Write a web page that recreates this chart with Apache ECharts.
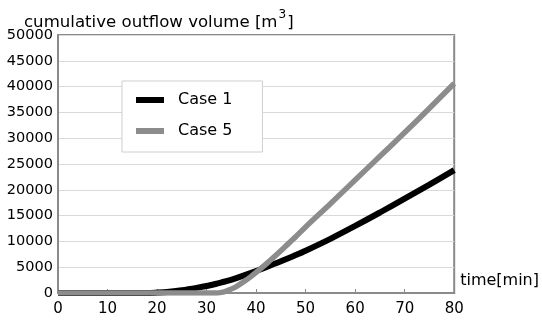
<!DOCTYPE html>
<html>
<head>
<meta charset="utf-8">
<script src="https://cdn.jsdelivr.net/npm/echarts@6/dist/echarts.min.js"></script>
<style>
  html, body { margin: 0; padding: 0; background: #fff; }
  #chart { width: 542px; height: 326px; }
</style>
</head>
<body>
<div id="chart"></div>
<script>
// elapsed time [min]
const timeMin = [0, 5, 10, 15, 18, 20, 22, 25, 28, 30, 32, 33, 34, 36, 38, 40, 42, 44, 46, 48, 50, 55, 60, 65, 70, 75, 80];
// cumulative outflow volume [m3]
const case1 = [0, 0, 0, 0, 0, 80, 200, 550, 1000, 1350, 1800, 2050, 2300, 2900, 3550, 4250, 5000, 5750, 6550, 7350, 8200, 10500, 13000, 15600, 18300, 21000, 23800];
const case5 = [0, 0, 0, 0, 0, 0, 0, 0, 0, 0, 0, 120, 400, 1250, 2500, 4000, 5600, 7300, 9100, 10900, 12800, 17300, 21900, 26500, 31100, 35800, 40600];
const seriesNames = ['Case 1', 'Case 5'];

const pairs = vals => timeMin.map((t, i) => [t, vals[i]]);
const font = '"DejaVu Sans", Verdana, sans-serif';

const chart = echarts.init(document.getElementById('chart'), null, { renderer: 'canvas' });
chart.setOption({
  animation: false,
  backgroundColor: '#ffffff',
  grid: {
    left: 58, right: 87, top: 35, bottom: 33,
    show: true, borderColor: '#8a8a8a', borderWidth: 2, backgroundColor: 'transparent'
  },
  title: {
    text: '{t|cumulative outflow volume [m}{s|3}{t|]}',
    left: 19, top: 4,
    textStyle: {
      fontWeight: 'normal',
      rich: {
        t: { fontSize: 16.6, fontWeight: 'normal', fontFamily: font, color: '#000', verticalAlign: 'bottom', lineHeight: 22 },
        s: { fontSize: 12, fontWeight: 'normal', fontFamily: font, color: '#000', verticalAlign: 'top', lineHeight: 22, padding: [0, 1, 10, 1] }
      }
    }
  },
  legend: {
    data: seriesNames,
    orient: 'vertical',
    left: 122, top: 81,
    padding: [11, 30, 13, 14],
    itemGap: 15,
    itemWidth: 28, itemHeight: 6,
    icon: 'rect',
    borderColor: '#cfcfcf', borderWidth: 1,
    backgroundColor: '#fff',
    textStyle: { fontSize: 16, fontFamily: font, color: '#000', padding: [0, 0, 0, 9] }
  },
  xAxis: {
    type: 'value', min: 0, max: 80, interval: 10,
    name: 'time[min]', nameLocation: 'end', nameGap: 6,
    nameTextStyle: { fontSize: 16, fontFamily: font, color: '#000', align: 'left', verticalAlign: 'bottom', padding: [0, 0, 4, 0] },
    axisLine: { show: true, lineStyle: { color: '#8a8a8a', width: 2 } },
    axisTick: { show: true, inside: true, length: 4, lineStyle: { color: '#8a8a8a' } },
    axisLabel: { fontSize: 15, fontFamily: font, color: '#000', margin: 9 },
    splitLine: { show: false }
  },
  yAxis: {
    type: 'value', min: 0, max: 50000, interval: 5000,
    axisLine: { show: true, lineStyle: { color: '#8a8a8a', width: 2 } },
    axisTick: { show: false },
    axisLabel: { fontSize: 14.5, fontFamily: font, color: '#000', margin: 5, formatter: v => String(v) },
    splitLine: { show: true, lineStyle: { color: '#d9d9d9', width: 1 } }
  },
  series: [
    {
      name: seriesNames[0], type: 'line', data: pairs(case1),
      smooth: 0.3, symbol: 'none',
      lineStyle: { color: '#000000', width: 6 }, itemStyle: { color: '#000000' }
    },
    {
      name: seriesNames[1], type: 'line', data: pairs(case5),
      smooth: 0.3, symbol: 'none',
      lineStyle: { color: '#8c8c8c', width: 5.5 }, itemStyle: { color: '#8c8c8c' }
    }
  ]
});
</script>
</body>
</html>
